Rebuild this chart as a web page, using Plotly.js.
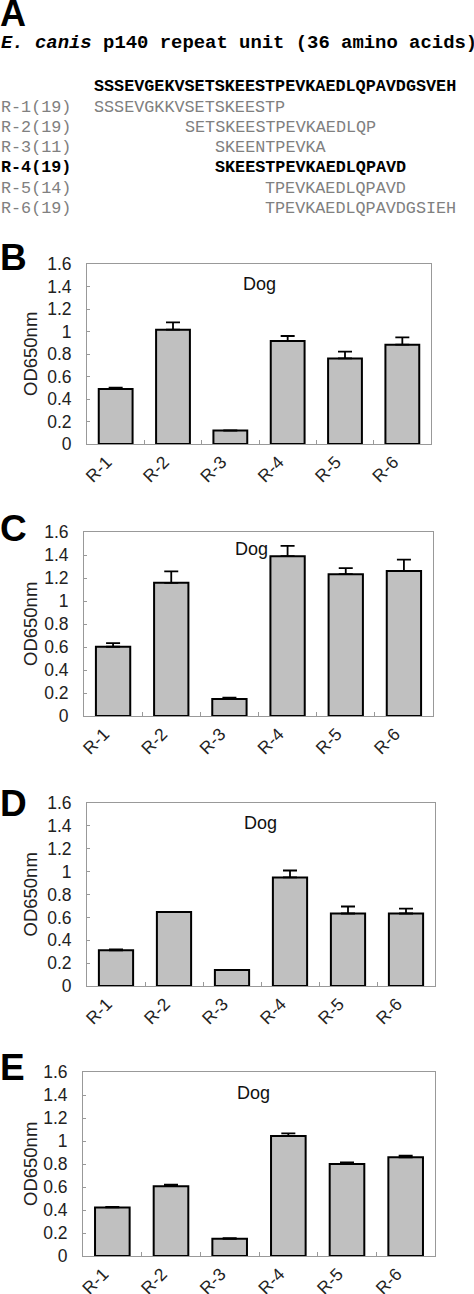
<!DOCTYPE html>
<html>
<head>
<meta charset="utf-8">
<script src="https://cdn.plot.ly/plotly-3.0.1.min.js"></script>
<style>html,body{margin:0;padding:0;background:#fff;}#chart{width:474px;height:1294px;}</style>
</head>
<body>
<div id="chart"></div>
<script>
// ---- Data ----
var categories = ["R-1", "R-2", "R-3", "R-4", "R-5", "R-6"];
var panelLetters = ["B", "C", "D", "E"];
var valuesB = [0.49, 1.016, 0.119, 0.916, 0.761, 0.883];
var errorsB = [0.01, 0.065, 0.003, 0.044, 0.06, 0.065];
var valuesC = [0.602, 1.158, 0.148, 1.39, 1.233, 1.26];
var errorsC = [0.032, 0.10, 0.012, 0.09, 0.053, 0.10];
var valuesD = [0.312, 0.648, 0.14, 0.949, 0.634, 0.634];
var errorsD = [0.008, 0.0, 0.0, 0.061, 0.061, 0.043];
var valuesE = [0.422, 0.607, 0.15, 1.043, 0.80, 0.858];
var errorsE = [0.005, 0.014, 0.006, 0.023, 0.014, 0.014];
var yTickVals = [0, 0.2, 0.4, 0.6, 0.8, 1, 1.2, 1.4, 1.6];
var yTickText = ["0", "0.2", "0.4", "0.6", "0.8", "1", "1.2", "1.4", "1.6"];
var panelNote = "Dog";
var yTitle = "OD650nm";

// Panel A sequence alignment
var repeatTitle = "<b><i>E. canis</i> p140 repeat unit (36 amino acids)</b>";
var repeatSequence = "SSSEVGEKVSETSKEESTPEVKAEDLQPAVDGSVEH";
var peptideLabels = ["R-1(19)", "R-2(19)", "R-3(11)", "R-4(19)", "R-5(14)", "R-6(19)"];
var peptideSeqs = ["SSSEVGKKVSETSKEESTP", "SETSKEESTPEVKAEDLQP", "SKEENTPEVKA",
                   "SKEESTPEVKAEDLQPAVD", "TPEVKAEDLQPAVD", "TPEVKAEDLQPAVDGSIEH"];
var peptideStartCol = [0, 9, 12, 12, 17, 17];
var peptideHighlight = [false, false, false, true, false, false];

// ---- Layout geometry (pixels) ----
var W = 474, H = 1294;
var panels = [
  {vals: valuesB, errs: errorsB, x0: 87, x1: 431, top: 264, bot: 444, dogX: 259, dogY: 284, letterY: 257},
  {vals: valuesC, errs: errorsC, x0: 84, x1: 433, top: 532, bot: 716, dogX: 252, dogY: 549, letterY: 528},
  {vals: valuesD, errs: errorsD, x0: 87, x1: 435, top: 803, bot: 986, dogX: 260, dogY: 823, letterY: 803},
  {vals: valuesE, errs: errorsE, x0: 83, x1: 435, top: 1072, bot: 1256, dogX: 253, dogY: 1093, letterY: 1067}
];
function px(x){ return x / W; }
function py(y){ return 1 - y / H; }

var traces = [];
var layout = {
  width: W, height: H,
  margin: {l: 0, r: 0, t: 0, b: 0},
  paper_bgcolor: "#fff", plot_bgcolor: "#fff",
  showlegend: false,
  bargap: 0.41,
  font: {family: "Liberation Sans, Arial, sans-serif", color: "#222"},
  annotations: []
};

panels.forEach(function(p, i){
  var sfx = i === 0 ? "" : String(i + 1);
  traces.push({
    type: "bar",
    x: categories,
    y: p.vals,
    xaxis: "x" + sfx, yaxis: "y" + sfx,
    marker: {color: "#c0c0c0", line: {color: "#000", width: 2}},
    error_y: {type: "data", symmetric: false, array: p.errs,
              arrayminus: p.errs.map(function(){ return 0; }),
              color: "#000", thickness: 1.8, width: 7},
    hoverinfo: "x+y"
  });
  layout["xaxis" + sfx] = {
    domain: [px(p.x0), px(p.x1)],
    anchor: "y" + sfx,
    type: "category",
    categoryorder: "array", categoryarray: categories,
    tickangle: -45,
    tickfont: {size: 17.5, color: "#222"},
    ticklabelshift: -9,
    ticklabelstandoff: 0,
    showline: true, linecolor: "#999", linewidth: 1, mirror: true,
    ticks: "inside", tickson: "boundaries", ticklen: 4, tickcolor: "#999",
    showgrid: false, zeroline: false, automargin: false
  };
  layout["yaxis" + sfx] = {
    domain: [py(p.bot), py(p.top)],
    anchor: "x" + sfx,
    range: [0, 1.6],
    tickvals: yTickVals, ticktext: yTickText,
    tickfont: {size: 17.5, color: "#222"},
    showline: true, linecolor: "#999", linewidth: 1, mirror: true,
    ticks: "inside", ticklen: 3, tickcolor: "#999",
    ticklabelstandoff: 11,
    showgrid: false, zeroline: false, automargin: false
  };
  layout.annotations.push({
    xref: "paper", yref: "paper", x: px(p.dogX), y: py(p.dogY),
    xanchor: "center", yanchor: "middle", showarrow: false,
    text: panelNote, font: {size: 18, color: "#111"}
  });
  layout.annotations.push({
    xref: "paper", yref: "paper", x: px(30), y: py((p.top + p.bot) / 2),
    xanchor: "center", yanchor: "middle", showarrow: false, textangle: -90,
    text: yTitle, font: {size: 18.5, color: "#222"}
  });
  layout.annotations.push({
    xref: "paper", yref: "paper", x: px(-2), y: py(p.letterY),
    xanchor: "left", yanchor: "middle", showarrow: false,
    text: "<b>" + panelLetters[i] + "</b>", font: {size: 37, color: "#000"}
  });
});

// Panel A
layout.annotations.push({
  xref: "paper", yref: "paper", x: px(-2), y: py(14),
  xanchor: "left", yanchor: "middle", showarrow: false,
  text: "<b>A</b>", font: {size: 36, color: "#000"}
});
layout.annotations.push({
  xref: "paper", yref: "paper", x: px(-1), y: py(43),
  xanchor: "left", yanchor: "middle", showarrow: false,
  text: repeatTitle, font: {family: "Liberation Mono, Courier New, monospace", size: 18.9, color: "#000"}
});
var seqX0 = 92, colW = 10.06, rowY0 = 87, rowH = 20.2, monoSize = 16.77;
layout.annotations.push({
  xref: "paper", yref: "paper", x: px(seqX0), y: py(rowY0),
  xanchor: "left", yanchor: "middle", showarrow: false,
  text: "<b>" + repeatSequence + "</b>",
  font: {family: "Liberation Mono, Courier New, monospace", size: monoSize, color: "#000"}
});
peptideLabels.forEach(function(lab, k){
  var hl = peptideHighlight[k];
  var col = hl ? "#000" : "#808080";
  var yy = py(rowY0 + rowH * (k + 1));
  layout.annotations.push({
    xref: "paper", yref: "paper", x: px(-1), y: yy,
    xanchor: "left", yanchor: "middle", showarrow: false,
    text: hl ? "<b>" + lab + "</b>" : lab,
    font: {family: "Liberation Mono, Courier New, monospace", size: monoSize, color: col}
  });
  layout.annotations.push({
    xref: "paper", yref: "paper", x: px(seqX0 + peptideStartCol[k] * colW), y: yy,
    xanchor: "left", yanchor: "middle", showarrow: false,
    text: hl ? "<b>" + peptideSeqs[k] + "</b>" : peptideSeqs[k],
    font: {family: "Liberation Mono, Courier New, monospace", size: monoSize, color: col}
  });
});

Plotly.newPlot("chart", traces, layout, {displayModeBar: false, staticPlot: true});
</script>
</body>
</html>
